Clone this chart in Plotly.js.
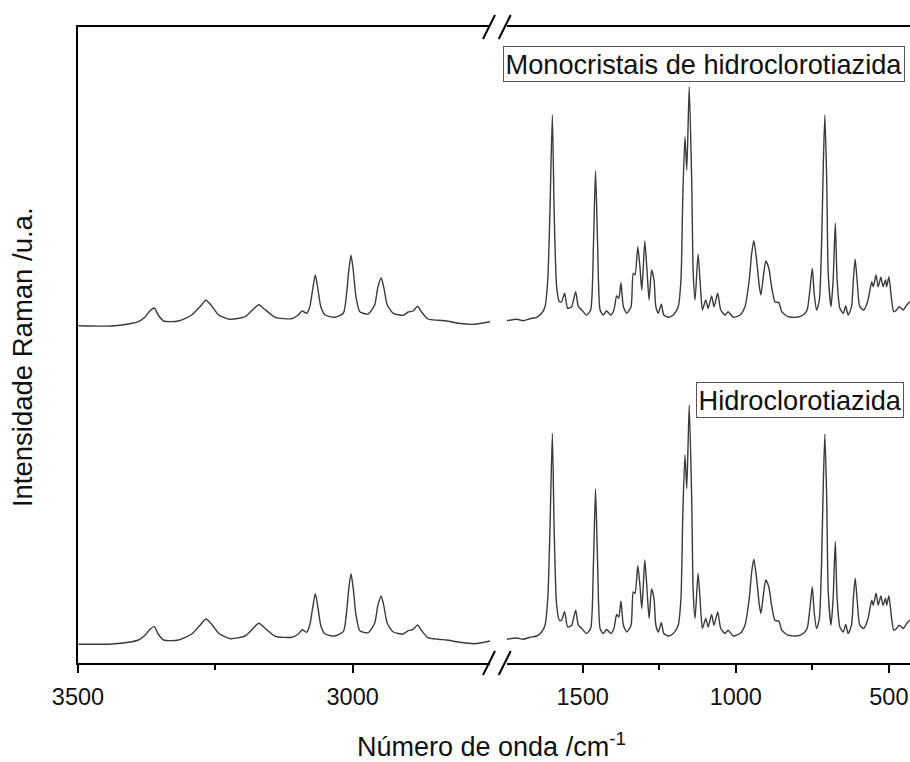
<!DOCTYPE html>
<html>
<head>
<meta charset="utf-8">
<script src="https://cdn.plot.ly/plotly-3.0.1.min.js"></script>
<style>
  html, body { margin: 0; padding: 0; background: #fff; }
  #chart { width: 910px; height: 762px; }
</style>
</head>
<body>
<div id="chart"></div>
<script>
// Raman spectra of hydrochlorothiazide (powder vs. single crystals).
// The wavenumber axis is broken: a high region (C-H / N-H stretch)
// and the fingerprint region, each on its own x-axis.

// High-wavenumber region, cm^-1
const wnHigh = [
  3499, 3438, 3408, 3390, 3378, 3369, 3361, 3354, 3344, 3317,
  3293, 3278, 3267, 3257, 3244, 3223, 3196, 3181, 3171, 3160,
  3141, 3111, 3099, 3092, 3084, 3078, 3073, 3068, 3063, 3058,
  3050, 3033, 3017, 3011, 3007, 3003, 2999, 2994, 2987, 2972,
  2960, 2954, 2948, 2943, 2937, 2926, 2908, 2899, 2890, 2882,
  2875, 2863, 2844, 2829, 2808, 2778, 2750
];
const monoHigh = [
  7.3, 7, 9, 11.3, 16, 22.3, 25, 18, 12, 12,
  18, 26.3, 32.7, 27.3, 18, 13.7, 16.3, 23.7, 28.3, 23.7,
  15.7, 14.3, 18, 22, 19.7, 26.3, 43, 58, 43, 26.3,
  18, 15.7, 19.7, 39.7, 63, 77.7, 63, 36.3, 21.3, 19,
  28, 46.3, 55, 44.7, 28, 19.7, 17.7, 21, 22, 26.7,
  21.3, 14, 12.7, 12, 9.7, 8.7, 11.3
];
const hctzHigh = [
  8.7, 9, 10.7, 13, 17.7, 23.7, 26.3, 19, 13, 13,
  19, 27.7, 34, 29, 19.7, 14.3, 17, 24.7, 29.7, 25,
  16.7, 15.7, 19, 23.3, 20.7, 28, 44.7, 59.3, 44.7, 27.3,
  19, 17, 21.3, 41.3, 64.7, 79.3, 64.7, 38, 22.3, 20.3,
  29.7, 48, 56.7, 46.3, 29.7, 21, 19, 22.3, 23.7, 28,
  22.7, 15.3, 13.7, 13, 11, 9.3, 12
];

// Fingerprint region, cm^-1
const wnLow = [
  1748, 1715, 1694, 1672, 1650, 1634, 1623, 1614, 1607, 1599,
  1593, 1585, 1576, 1569, 1559, 1549, 1536, 1523, 1514, 1503,
  1487, 1474, 1465, 1458, 1451, 1443, 1433, 1422, 1408, 1398,
  1389, 1382, 1375, 1367, 1356, 1342, 1335, 1329, 1320, 1313,
  1307, 1302, 1297, 1290, 1283, 1275, 1267, 1261, 1253, 1243,
  1235, 1220, 1204, 1188, 1179, 1173, 1166, 1160, 1152, 1144,
  1139, 1133, 1123, 1114, 1109, 1098, 1090, 1079, 1071, 1059,
  1049, 1035, 1025, 1008, 986, 970, 956, 948, 941, 932,
  923, 918, 910, 902, 892, 883, 872, 859, 850, 829,
  801, 780, 767, 758, 750, 744, 736, 727, 720, 714,
  709, 703, 698, 689, 682, 675, 669, 660, 649, 641,
  633, 622, 616, 610, 603, 595, 582, 568, 556, 551,
  542, 535, 526, 519, 511, 507, 500, 491, 484, 475,
  466, 453, 442, 431
];
const monoLow = [
  12.3, 13.7, 12.3, 14.3, 15.7, 19.7, 26.3, 53, 119.7, 218,
  119.7, 46.3, 31.3, 31.3, 39.7, 24.7, 26.3, 41.3, 26.3, 23,
  18, 23, 86.3, 162.3, 86.3, 23, 18, 22, 18, 23,
  37, 34.7, 50.3, 26.3, 19.7, 26.3, 59.7, 58, 86.3, 66.3,
  43, 66.3, 92, 63, 33, 63, 53, 26.3, 19.7, 28.7,
  18, 15.7, 18, 26.3, 53, 136.3, 196.3, 163, 246.3, 153,
  59.7, 33, 78.7, 39.7, 23, 33, 24.7, 37, 26.3, 39.7,
  23, 18, 21.3, 15.7, 18, 26.3, 53, 79.7, 92.3, 73,
  46.3, 38, 56.3, 72, 64.7, 46.3, 31.3, 30.3, 21.3, 16.3,
  15.7, 18, 23, 43, 64.7, 39.7, 23, 33, 86.3, 169.7,
  218, 153, 59.7, 26.3, 53, 109.7, 53, 24.7, 19.7, 27,
  18, 26.3, 53, 73.7, 49.7, 26.3, 23, 33, 51.3, 46.3,
  58, 46.3, 55.7, 46.3, 53, 46.3, 56.3, 33, 21.3, 23,
  26.3, 23, 28, 31.3
];
const hctzLow = [
  13.7, 15, 13.8, 15.7, 17, 21, 27.8, 54.5, 121, 219.7,
  121, 47.8, 32.8, 32.8, 41.3, 26, 27.8, 42.7, 27.8, 24.5,
  19.5, 24.5, 87.8, 164, 87.8, 24.5, 19.5, 23.5, 19.5, 24.5,
  38.5, 36, 52, 27.8, 21, 27.8, 61, 59.5, 87.3, 67.8,
  44.5, 67.8, 93, 64.5, 34.5, 64, 54.5, 27.8, 21, 30.3,
  19.5, 17, 19.5, 27.8, 54.5, 138, 198, 164.5, 248, 154.5,
  61, 34.5, 79.7, 41, 24.5, 34.5, 26, 38.5, 27.8, 41,
  24.5, 19.5, 22.8, 17, 19.5, 27.8, 54.5, 81, 93.7, 74.5,
  47.8, 39.5, 57.8, 73, 66, 47.8, 32.8, 31.8, 22.8, 17.8,
  17, 19.5, 24.5, 44.5, 66.3, 41, 24.5, 34.5, 87.8, 171,
  218.7, 154.5, 61, 27.8, 54.5, 111.3, 54.5, 26, 21, 28.5,
  19.5, 27.8, 54.5, 74.7, 51, 27.8, 24.5, 34.5, 52.8, 47.8,
  59.7, 47.8, 57, 47.8, 54.5, 47.8, 57.3, 34.5, 22.8, 24.5,
  27.8, 24.5, 29.5, 33
];

const seriesNames = ['Monocristais de hidroclorotiazida', 'Hidroclorotiazida'];
const ticksHigh = [3500, 3000];
const minorHigh = [3250];
const ticksLow = [1500, 1000, 500];
const minorLow = [1250, 750];

// vertical stacking of the two spectra
const stackOffset = 320;

const FONT = 'Liberation Sans, Arial, Helvetica, sans-serif';
const INK = '#111';
const LINE = { color: '#3a3a3a', width: 1.4, shape: 'spline', smoothing: 0.6 };

const shift = (arr, d) => arr.map(v => v + d);

const traces = [
  { x: wnHigh, y: shift(monoHigh, stackOffset), xaxis: 'x', yaxis: 'y', name: seriesNames[0] },
  { x: wnLow, y: shift(monoLow, stackOffset), xaxis: 'x2', yaxis: 'y', name: seriesNames[0] },
  { x: wnHigh, y: hctzHigh, xaxis: 'x', yaxis: 'y', name: seriesNames[1] },
  { x: wnLow, y: hctzLow, xaxis: 'x2', yaxis: 'y', name: seriesNames[1] }
].map(t => Object.assign(t, { type: 'scatter', mode: 'lines', line: LINE, hoverinfo: 'skip' }));

// domains of the two halves of the broken axis
const dom1 = [0, 0.4952];
const dom2 = [0.5153, 1];

const axisCommon = {
  showline: true, linecolor: '#000', linewidth: 2, mirror: true,
  ticks: 'outside', ticklen: 8, tickwidth: 2, tickcolor: '#000',
  showgrid: false, zeroline: false,
  tickfont: { family: FONT, size: 23.5, color: INK },
  ticklabelstandoff: 4,
  tickmode: 'array'
};

// break marks "//" on the top and bottom axis lines
const plotW = 832, plotH = 636;
const sx = 6 / plotW, sy = 12 / plotH;
const breakShapes = [];
[dom1[1] - 1 / plotW, dom2[0] - 2 / plotW].forEach(cx => {
  [0, 1].forEach(cy => {
    breakShapes.push({
      type: 'line', xref: 'paper', yref: 'paper',
      x0: cx - sx, y0: cy - sy, x1: cx + sx, y1: cy + sy,
      line: { color: '#000', width: 2 }
    });
  });
});

const layout = {
  width: 910, height: 762,
  margin: { l: 78, r: 0, t: 27, b: 99 },
  paper_bgcolor: '#fff', plot_bgcolor: '#fff',
  showlegend: false,
  font: { family: FONT, color: INK },
  xaxis: Object.assign({}, axisCommon, {
    domain: dom1, range: [3500, 2750], anchor: 'y',
    tickvals: ticksHigh,
    minor: { tickmode: 'array', tickvals: minorHigh, ticks: 'outside', ticklen: 5, tickwidth: 2, tickcolor: '#000' }
  }),
  xaxis2: Object.assign({}, axisCommon, {
    domain: dom2, range: [1748, 431], anchor: 'y',
    tickvals: ticksLow,
    minor: { tickmode: 'array', tickvals: minorLow, ticks: 'outside', ticklen: 5, tickwidth: 2, tickcolor: '#000' }
  }),
  yaxis: {
    range: [-10, 626], showline: true, linecolor: '#000', linewidth: 2,
    ticks: '', showticklabels: false, showgrid: false, zeroline: false
  },
  shapes: breakShapes,
  annotations: [
    {
      text: seriesNames[0], xref: 'paper', yref: 'paper',
      x: 0.9945, y: 0.9701, xanchor: 'right', yanchor: 'top', showarrow: false,
      font: { family: FONT, size: 27.2, color: INK },
      bordercolor: '#555', borderwidth: 1, borderpad: 1.5, bgcolor: '#fff'
    },
    {
      text: seriesNames[1], xref: 'paper', yref: 'paper',
      x: 0.9922, y: 0.4418, xanchor: 'right', yanchor: 'top', showarrow: false,
      font: { family: FONT, size: 27.2, color: INK },
      bordercolor: '#555', borderwidth: 1, borderpad: 1.5, bgcolor: '#fff'
    },
    {
      text: 'Número de onda /cm<sup>-1</sup>', xref: 'paper', yref: 'paper',
      x: 0.4964, y: -0.129, xanchor: 'center', yanchor: 'middle', showarrow: false,
      font: { family: FONT, size: 27, color: INK }
    },
    {
      text: 'Intensidade Raman /u.a.', xref: 'paper', yref: 'paper',
      x: -0.0673, y: 0.481, xanchor: 'center', yanchor: 'middle', showarrow: false,
      textangle: -90,
      font: { family: FONT, size: 27.5, color: INK }
    }
  ]
};

Plotly.newPlot('chart', traces, layout, { staticPlot: true, displayModeBar: false });
</script>
</body>
</html>
